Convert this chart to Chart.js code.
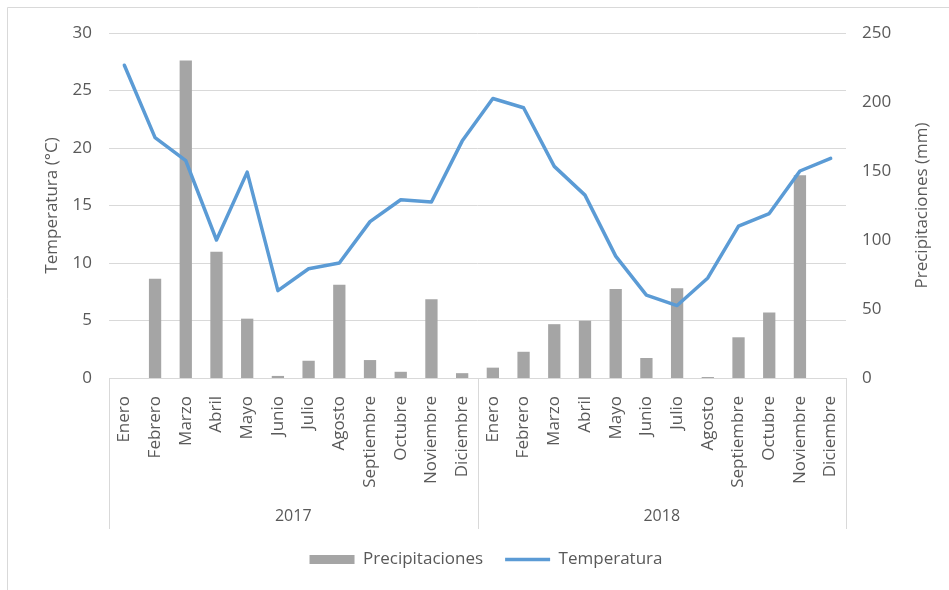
<!DOCTYPE html>
<html>
<head>
<meta charset="utf-8">
<script src="https://cdn.jsdelivr.net/npm/chart.js@4/dist/chart.umd.min.js"></script>
<style>
html,body{margin:0;padding:0;background:#fff;}
#wrap{width:949px;height:590px;position:relative;}
</style>
</head>
<body>
<div id="wrap"><canvas id="c" width="949" height="590"></canvas></div>
<script>
const months = ['Enero','Febrero','Marzo','Abril','Mayo','Junio','Julio','Agosto','Septiembre','Octubre','Noviembre','Diciembre'];
const years = ['2017','2018'];
const categories = months.concat(months);
const precipitaciones = [0,72,230,91.5,43,1.5,12.5,67.5,13,4.5,57,3.5,
                         7.5,19,39,41.5,64.5,14.5,65,0.7,29.5,47.5,147,0];
const temperatura = [27.2,20.9,18.9,12.0,17.9,7.6,9.5,10.0,13.6,15.5,15.3,20.6,
                     24.3,23.5,18.4,15.9,10.6,7.2,6.3,8.7,13.2,14.3,18.0,19.1];
const tempAxis = {min:0, max:30, step:5, title:'Temperatura (°C)'};
const precAxis = {min:0, max:250, step:50, title:'Precipitaciones (mm)'};

const TXT = '#595959';
const GRID = '#d9d9d9';
const FONT = '"Open Sans", sans-serif';

const framePlugin = {
  id:'frame',
  beforeDraw(chart){
    const ctx = chart.ctx;
    ctx.save();
    ctx.fillStyle = '#fff';
    ctx.fillRect(0,0,chart.width,chart.height);
    ctx.strokeStyle = '#d9d9d9';
    ctx.lineWidth = 1;
    ctx.beginPath();
    ctx.moveTo(7.5, chart.height); ctx.lineTo(7.5, 7.5); ctx.lineTo(chart.width, 7.5);
    ctx.stroke();
    ctx.restore();
  }
};

const rightTitle = {
  id:'rightTitle',
  afterDraw(chart){
    const s = chart.scales.y1; const ctx = chart.ctx;
    ctx.save();
    ctx.translate(s.right - 20, (chart.chartArea.top + chart.chartArea.bottom)/2);
    ctx.rotate(-Math.PI/2);
    ctx.fillStyle = TXT; ctx.font = '17px ' + FONT;
    ctx.textAlign = 'center'; ctx.textBaseline = 'middle';
    ctx.fillText(precAxis.title, 0, 0);
    ctx.restore();
  }
};

const yearGroups = {
  id:'yearGroups',
  afterDraw(chart){
    const x = chart.scales.x; const ctx = chart.ctx;
    const n = months.length;
    const bounds = [];
    for (let g=0; g<=years.length; g++){
      if (g===0) bounds.push(x.left);
      else if (g===years.length) bounds.push(x.right);
      else bounds.push((x.getPixelForValue(g*n-1)+x.getPixelForValue(g*n))/2);
    }
    ctx.save();
    ctx.strokeStyle = GRID; ctx.lineWidth = 1;
    bounds.forEach(b=>{
      const px = Math.round(b)+0.5;
      ctx.beginPath(); ctx.moveTo(px, x.top); ctx.lineTo(px, x.bottom); ctx.stroke();
    });
    ctx.fillStyle = TXT; ctx.font = '16px ' + FONT;
    ctx.textAlign = 'center'; ctx.textBaseline = 'middle';
    years.forEach((y,i)=>{ ctx.fillText(y, (bounds[i]+bounds[i+1])/2, x.bottom-13); });
    ctx.restore();
  }
};

new Chart(document.getElementById('c'), {
  data: {
    labels: categories,
    datasets: [
      {
        type:'bar', label:'Precipitaciones', data: precipitaciones, yAxisID:'y1',
        backgroundColor:'#a5a5a5', borderWidth:0, barPercentage:0.4, categoryPercentage:1,
        pointStyle:'rect', order:2
      },
      {
        type:'line', label:'Temperatura', data: temperatura, yAxisID:'y',
        borderColor:'#5b9bd5', backgroundColor:'#5b9bd5', borderWidth:3.5,
        pointRadius:0, pointStyle:'line', tension:0, borderJoinStyle:'round', borderCapStyle:'round', order:1
      }
    ]
  },
  options: {
    responsive:false, animation:false,
    layout:{padding:{left:30, right:7, top:33, bottom:12}},
    plugins:{
      tooltip:{enabled:false},
      legend:{
        position:'bottom',
        labels:{
          usePointStyle:true, pointStyleWidth:45, boxHeight:9, padding:22,
          color:TXT, font:{family:FONT, size:17},
          sort:(a,b)=>a.datasetIndex-b.datasetIndex
        }
      }
    },
    scales:{
      x:{
        type:'category',
        grid:{display:false},
        border:{display:true, color:GRID, width:1},
        ticks:{autoSkip:false, maxRotation:90, minRotation:90, padding:10, color:TXT, font:{family:FONT, size:17}},
        afterFit(s){ s.height = 151; }
      },
      y:{
        position:'left', min:tempAxis.min, max:tempAxis.max,
        grid:{color:GRID, drawTicks:false},
        border:{display:false},
        ticks:{stepSize:tempAxis.step, padding:17, color:TXT, font:{family:FONT, size:17}},
        title:{display:true, text:tempAxis.title, color:TXT, font:{family:FONT, size:17}, padding:{top:12,bottom:0}},
        afterFit(s){ s.width = 79; }
      },
      y1:{
        position:'right', min:precAxis.min, max:precAxis.max,
        grid:{display:false, drawTicks:false},
        border:{display:false},
        ticks:{stepSize:precAxis.step, padding:16, color:TXT, font:{family:FONT, size:17}},
        title:{display:false},
        afterFit(s){ s.width = 96; }
      }
    }
  },
  plugins:[framePlugin, yearGroups, rightTitle]
});
</script>
</body>
</html>
